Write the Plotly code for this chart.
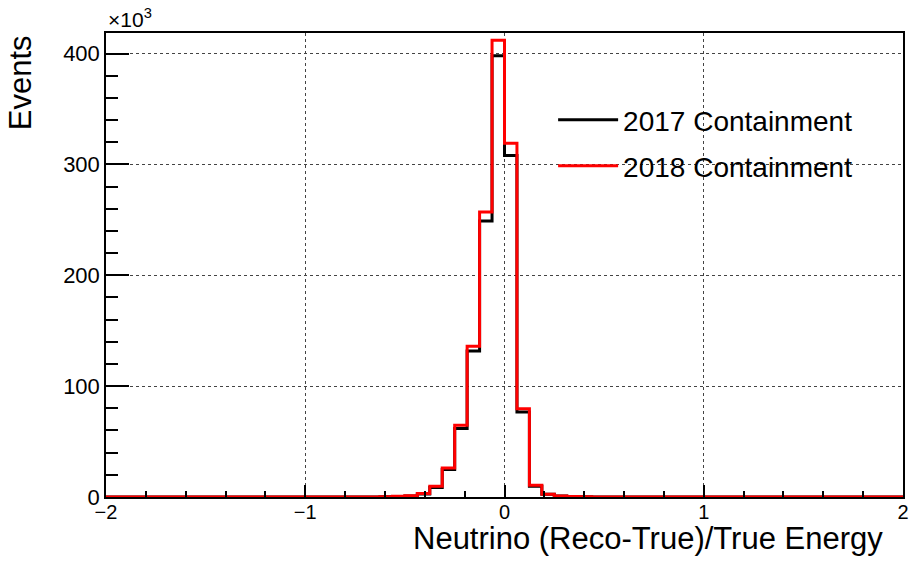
"""Neutrino energy resolution: 2017 vs 2018 containment, ROOT-style step histogram."""

import numpy as np
import plotly.graph_objects as go

# histogram binning (64 bins over [-2, 2])
BIN_LO, BIN_HI, N_BINS = -2.0, 2.0, 64

# bin contents in thousands of events, one entry per bin (left to right)
counts_2017 = [
    0, 0, 0, 0, 0, 0, 0, 0, 0, 0, 0, 0, 0, 0, 0, 0,
    0, 0, 0, 0, 0.05, 0.1, 0.3, 0.5, 1.0, 2.8, 8.5, 24.7, 61.7, 131.7, 249, 398,
    308, 76.7, 9.7, 2.5, 0.9, 0.4, 0.2, 0.1, 0.05, 0, 0, 0, 0, 0, 0, 0,
    0, 0, 0, 0, 0, 0, 0, 0, 0, 0, 0, 0, 0, 0, 0, 0,
]
counts_2018 = [
    0, 0, 0, 0, 0, 0, 0, 0, 0, 0, 0, 0, 0, 0, 0, 0,
    0, 0, 0, 0, 0.05, 0.1, 0.3, 0.6, 1.2, 3.2, 9.7, 26.2, 64.7, 136, 257, 412,
    319, 79.7, 10.5, 2.4, 0.9, 0.4, 0.2, 0.1, 0.05, 0, 0, 0, 0, 0, 0, 0,
    0, 0, 0, 0, 0, 0, 0, 0, 0, 0, 0, 0, 0, 0, 0, 0,
]
series_names = ["2017 Containment", "2018 Containment"]
series_colors = ["#000000", "#ff0000"]

x_ticks = [-2, -1, 0, 1, 2]
x_tick_text = ["\u22122", "\u22121", "0", "1", "2"]
y_ticks = [0, 100, 200, 300, 400]

FONT = "Liberation Sans, Arial, Helvetica, sans-serif"

edges = np.linspace(BIN_LO, BIN_HI, N_BINS + 1)

fig = go.Figure()
for name, counts, color, leg in zip(
    series_names, [counts_2017, counts_2018], series_colors, ["legend", "legend2"]
):
    fig.add_trace(
        go.Scatter(
            x=edges,
            y=list(counts) + [counts[-1]],
            mode="lines",
            line=dict(color=color, width=3, shape="hv"),
            name=name,
            legend=leg,
            hoverinfo="skip",
        )
    )

axis_common = dict(
    showline=True,
    linecolor="#000000",
    linewidth=1.5,
    mirror=True,
    ticks="inside",
    tickcolor="#000000",
    tickwidth=1.5,
    showgrid=True,
    gridcolor="#444444",
    griddash="dot",
    gridwidth=1,
    zeroline=False,
    ticklabeloverflow="allow",
)

fig.update_xaxes(
    range=[BIN_LO, BIN_HI],
    tickvals=x_ticks,
    ticktext=x_tick_text,
    ticklen=12,
    ticklabelstandoff=-4,
    tickfont=dict(family=FONT, size=20, color="#000000"),
    minor=dict(dtick=0.2, ticklen=6, ticks="inside", tickcolor="#000000", showgrid=False),
    **axis_common,
)
fig.update_yaxes(
    range=[0, 418.5],
    tickvals=y_ticks,
    ticklen=23,
    tickfont=dict(family=FONT, size=22, color="#000000"),
    minor=dict(dtick=20, ticklen=12, ticks="inside", tickcolor="#000000", showgrid=False),
    **axis_common,
)

legend_style = dict(
    x=0.561,
    xanchor="left",
    yanchor="middle",
    bgcolor="rgba(255,255,255,0)",
    font=dict(family=FONT, size=28, color="#000000"),
    itemwidth=60,
)

fig.update_layout(
    width=909,
    height=561,
    margin=dict(l=106, r=6, t=33, b=64, autoexpand=False),
    plot_bgcolor="#ffffff",
    paper_bgcolor="#ffffff",
    font=dict(family=FONT, color="#000000"),
    showlegend=True,
    legend=dict(y=0.8125, **legend_style),
    legend2=dict(y=0.7134, **legend_style),
    annotations=[
        dict(
            text="Events",
            xref="paper", yref="paper",
            x=-0.107, y=1.0,
            xanchor="center", yanchor="top",
            textangle=-90,
            showarrow=False,
            font=dict(family=FONT, size=31),
        ),
        dict(
            text="Neutrino (Reco-True)/True Energy",
            xref="paper", yref="paper",
            x=0.977, y=-0.09,
            xanchor="right", yanchor="middle",
            showarrow=False,
            font=dict(family=FONT, size=31),
        ),
        dict(
            text="\u00d710<sup>3</sup>",
            xref="paper", yref="paper",
            x=0.0, y=1.0,
            xanchor="left", yanchor="bottom",
            showarrow=False,
            font=dict(family=FONT, size=21),
        ),
    ],
)

# drop the default page margin so the figure sits at the window origin
fig.write_html(
    "out.html",
    config={"displayModeBar": False},
    post_script="document.body.style.margin='0';",
)
